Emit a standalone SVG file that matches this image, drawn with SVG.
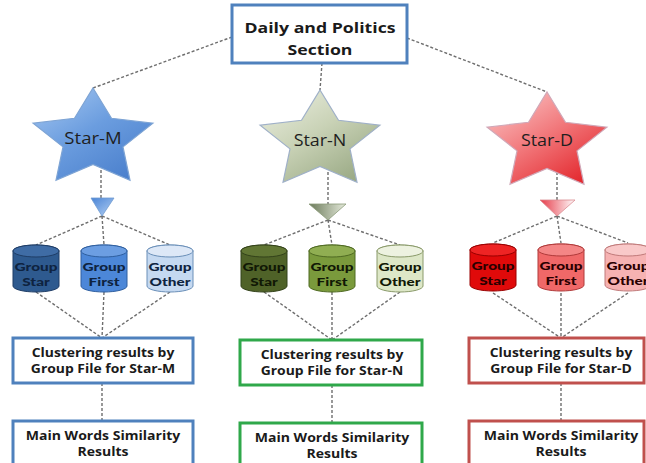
<svg xmlns="http://www.w3.org/2000/svg" xmlns:xlink="http://www.w3.org/1999/xlink" width="646" height="463" viewBox="0 0 646 463">
<style>
.dash{fill:none;stroke:#6e6e6e;stroke-width:1.4;stroke-dasharray:3 2}
.box{fill:#fff;stroke-width:3}
.t{font-family:"Open Sans","Liberation Sans",sans-serif;font-weight:bold;text-anchor:middle;fill:#1a1a1a}
.st{font-family:"Open Sans","Liberation Sans",sans-serif;font-size:16px;text-anchor:middle;fill:#1f1f1f}
.cy{font-family:Lato,"Liberation Sans",sans-serif;font-weight:900;font-size:12px;text-anchor:middle}
.bx{font-size:13px}
</style>
<defs>
<path id="star" d="M0,-51 L18.5,-20.7 L59.9,-15.8 L30,7.9 L37,41.3 L0,25.5 L-37,41.3 L-30,7.9 L-59.9,-15.8 L-18.5,-20.7 Z"/>
<path id="cylb" d="M-23,0 V35 A23,6 0 0 0 23,35 V0 A23,6 0 0 0 -23,0 Z"/>
<linearGradient id="gM" x1="0" y1="0" x2="0.8" y2="1"><stop offset="0" stop-color="#a9caf2"/><stop offset="0.5" stop-color="#6b9ddf"/><stop offset="1" stop-color="#4a7fcc"/></linearGradient>
<linearGradient id="gN" x1="0" y1="0" x2="0.8" y2="1"><stop offset="0" stop-color="#eef1e4"/><stop offset="0.5" stop-color="#c9d2b6"/><stop offset="1" stop-color="#98a883"/></linearGradient>
<linearGradient id="gD" x1="0" y1="0" x2="0.8" y2="1"><stop offset="0" stop-color="#fbd0d0"/><stop offset="0.5" stop-color="#f27b7e"/><stop offset="1" stop-color="#e3252b"/></linearGradient>
<linearGradient id="tM" x1="0" y1="0" x2="1" y2="1"><stop offset="0" stop-color="#4a84d6"/><stop offset="1" stop-color="#b5d1f3"/></linearGradient>
<linearGradient id="tN" x1="0" y1="0" x2="1" y2="0"><stop offset="0" stop-color="#6b7a5a"/><stop offset="1" stop-color="#e6ebdc"/></linearGradient>
<linearGradient id="tD" x1="0" y1="0" x2="1" y2="0"><stop offset="0" stop-color="#e63a48"/><stop offset="1" stop-color="#ffffff"/></linearGradient>
</defs>

<g id="connectors">
<path class="dash" d="M232,37 L93,88"/>
<path class="dash" d="M322,63 L320,90"/>
<path class="dash" d="M407,38 L547,92"/>
<path class="dash" d="M101,165 V198"/>
<path class="dash" d="M328,172 V204"/>
<path class="dash" d="M557,172 V200"/>
<path class="dash" d="M102,216 L36,245 M102,216 L104,245 M102,216 L170,245"/>
<path class="dash" d="M328,220 L264,245 M328,220 L332,245 M328,220 L400,245"/>
<path class="dash" d="M557,216 L493,243 M557,216 L561,243 M557,216 L628,243"/>
<path class="dash" d="M36,292 L102,338 M104,292 L102,338 M170,292 L102,338"/>
<path class="dash" d="M264,292 L332,340 M332,292 L332,340 M400,292 L332,340"/>
<path class="dash" d="M493,293 L561,338 M561,293 L561,338 M628,293 L561,338"/>
<path class="dash" d="M102,383 V421 M332,385 V423 M561,383 V421"/>
</g>

<g id="top">
<rect x="232" y="5" width="175" height="58" class="box" stroke="#4f81bd" stroke-width="2.5"/>
<text class="t" font-size="15" transform="translate(320,0) scale(1.18,1)"><tspan x="0" y="33">Daily and Politics</tspan><tspan x="0" y="55">Section</tspan></text>
</g>

<g id="star-m">
<use xlink:href="#star" href="#star" transform="translate(93,139)" fill="url(#gM)" stroke="#7ea4d4" stroke-width="1.2"/>
<text class="st" transform="translate(93,144) scale(1.16,1)">Star-M</text>
</g>
<g id="star-n">
<use xlink:href="#star" href="#star" transform="translate(320,141)" fill="url(#gN)" stroke="#9fb0c8" stroke-width="1.2"/>
<text class="st" transform="translate(320,146) scale(1.12,1)">Star-N</text>
</g>
<g id="star-d">
<use xlink:href="#star" href="#star" transform="translate(547,143)" fill="url(#gD)" stroke="#d0a8b8" stroke-width="1.2"/>
<text class="st" transform="translate(547,146) scale(1.12,1)">Star-D</text>
</g>

<g id="tri-m"><path d="M91,198 H114 L102,216 Z" fill="url(#tM)" stroke="#6f9bd0" stroke-width="0.8"/></g>
<g id="tri-n"><path d="M309,204 H346 L328,220 Z" fill="url(#tN)" stroke="#8a9a78" stroke-width="0.8"/></g>
<g id="tri-d"><path d="M540,200 H575 L557,216 Z" fill="url(#tD)" stroke="#d98a90" stroke-width="0.8"/></g>

<g id="m-star-db" transform="translate(36,251)">
<use xlink:href="#cylb" href="#cylb" fill="#2e5a8f" stroke="#1f3d66"/>
<ellipse rx="23" ry="6" fill="#3f6ca5" stroke="#1f3d66"/>
<text class="cy" fill="#0e2340" transform="scale(1.28,1)"><tspan x="0" y="20.5">Group</tspan><tspan x="0" y="35">Star</tspan></text>
</g>
<g id="m-first-db" transform="translate(104,251)">
<use xlink:href="#cylb" href="#cylb" fill="#4c87d8" stroke="#2f5f9f"/>
<ellipse rx="23" ry="6" fill="#6c9ee2" stroke="#2f5f9f"/>
<text class="cy" fill="#0e2340" transform="scale(1.28,1)"><tspan x="0" y="20.5">Group</tspan><tspan x="0" y="35">First</tspan></text>
</g>
<g id="m-other-db" transform="translate(170,251)">
<use xlink:href="#cylb" href="#cylb" fill="#c5d9f1" stroke="#6a8fb8"/>
<ellipse rx="23" ry="6" fill="#dde8f7" stroke="#6a8fb8"/>
<text class="cy" fill="#0e2340" transform="scale(1.28,1)"><tspan x="0" y="20.5">Group</tspan><tspan x="0" y="35">Other</tspan></text>
</g>

<g id="n-star-db" transform="translate(264,251)">
<use xlink:href="#cylb" href="#cylb" fill="#4f6228" stroke="#33421a"/>
<ellipse rx="23" ry="6" fill="#617634" stroke="#33421a"/>
<text class="cy" fill="#111805" transform="scale(1.28,1)"><tspan x="0" y="20.5">Group</tspan><tspan x="0" y="35">Star</tspan></text>
</g>
<g id="n-first-db" transform="translate(332,251)">
<use xlink:href="#cylb" href="#cylb" fill="#7a9a3c" stroke="#4f6a22"/>
<ellipse rx="23" ry="6" fill="#90ae52" stroke="#4f6a22"/>
<text class="cy" fill="#111805" transform="scale(1.28,1)"><tspan x="0" y="20.5">Group</tspan><tspan x="0" y="35">First</tspan></text>
</g>
<g id="n-other-db" transform="translate(400,251)">
<use xlink:href="#cylb" href="#cylb" fill="#dde7c7" stroke="#8a9a6a"/>
<ellipse rx="23" ry="6" fill="#edf2e0" stroke="#8a9a6a"/>
<text class="cy" fill="#111805" transform="scale(1.28,1)"><tspan x="0" y="20.5">Group</tspan><tspan x="0" y="35">Other</tspan></text>
</g>

<g id="d-star-db" transform="translate(493,250)">
<use xlink:href="#cylb" href="#cylb" fill="#e00a0a" stroke="#990000"/>
<ellipse rx="23" ry="6" fill="#ee2424" stroke="#990000"/>
<text class="cy" fill="#2a0000" transform="scale(1.28,1)"><tspan x="0" y="20.5">Group</tspan><tspan x="0" y="35">Star</tspan></text>
</g>
<g id="d-first-db" transform="translate(561,250)">
<use xlink:href="#cylb" href="#cylb" fill="#f06868" stroke="#b03a3a"/>
<ellipse rx="23" ry="6" fill="#f48686" stroke="#b03a3a"/>
<text class="cy" fill="#2a0000" transform="scale(1.28,1)"><tspan x="0" y="20.5">Group</tspan><tspan x="0" y="35">First</tspan></text>
</g>
<g id="d-other-db" transform="translate(628,250)">
<use xlink:href="#cylb" href="#cylb" fill="#f6b2b2" stroke="#c07a7a"/>
<ellipse rx="23" ry="6" fill="#f9c9c9" stroke="#c07a7a"/>
<text class="cy" fill="#2a0000" transform="scale(1.28,1)"><tspan x="0" y="20.5">Group</tspan><tspan x="0" y="35">Other</tspan></text>
</g>

<g id="m-cluster">
<rect x="13" y="338" width="180" height="45" class="box" stroke="#4f81bd"/>
<text class="t bx" transform="translate(103,0) scale(1.07,1)"><tspan x="0" y="357">Clustering results by</tspan><tspan x="0" y="373">Group File for Star-M</tspan></text>
</g>
<g id="n-cluster">
<rect x="240" y="340" width="182" height="45" class="box" stroke="#2fa84a"/>
<text class="t bx" transform="translate(332,0) scale(1.07,1)"><tspan x="0" y="359">Clustering results by</tspan><tspan x="0" y="375">Group File for Star-N</tspan></text>
</g>
<g id="d-cluster">
<rect x="469" y="338" width="175" height="45" class="box" stroke="#c0504d"/>
<text class="t bx" transform="translate(561,0) scale(1.07,1)"><tspan x="0" y="357">Clustering results by</tspan><tspan x="0" y="373">Group File for Star-D</tspan></text>
</g>

<g id="m-sim">
<rect x="13" y="421" width="180" height="48" class="box" stroke="#4f81bd"/>
<text class="t" font-size="13" transform="translate(103,0) scale(1.08,1)"><tspan x="0" y="440">Main Words Similarity</tspan><tspan x="0" y="456">Results</tspan></text>
</g>
<g id="n-sim">
<rect x="240" y="423" width="182" height="48" class="box" stroke="#2fa84a"/>
<text class="t" font-size="13" transform="translate(332,0) scale(1.08,1)"><tspan x="0" y="442">Main Words Similarity</tspan><tspan x="0" y="458">Results</tspan></text>
</g>
<g id="d-sim">
<rect x="469" y="421" width="175" height="48" class="box" stroke="#c0504d"/>
<text class="t" font-size="13" transform="translate(561,0) scale(1.08,1)"><tspan x="0" y="440">Main Words Similarity</tspan><tspan x="0" y="456">Results</tspan></text>
</g>
</svg>
